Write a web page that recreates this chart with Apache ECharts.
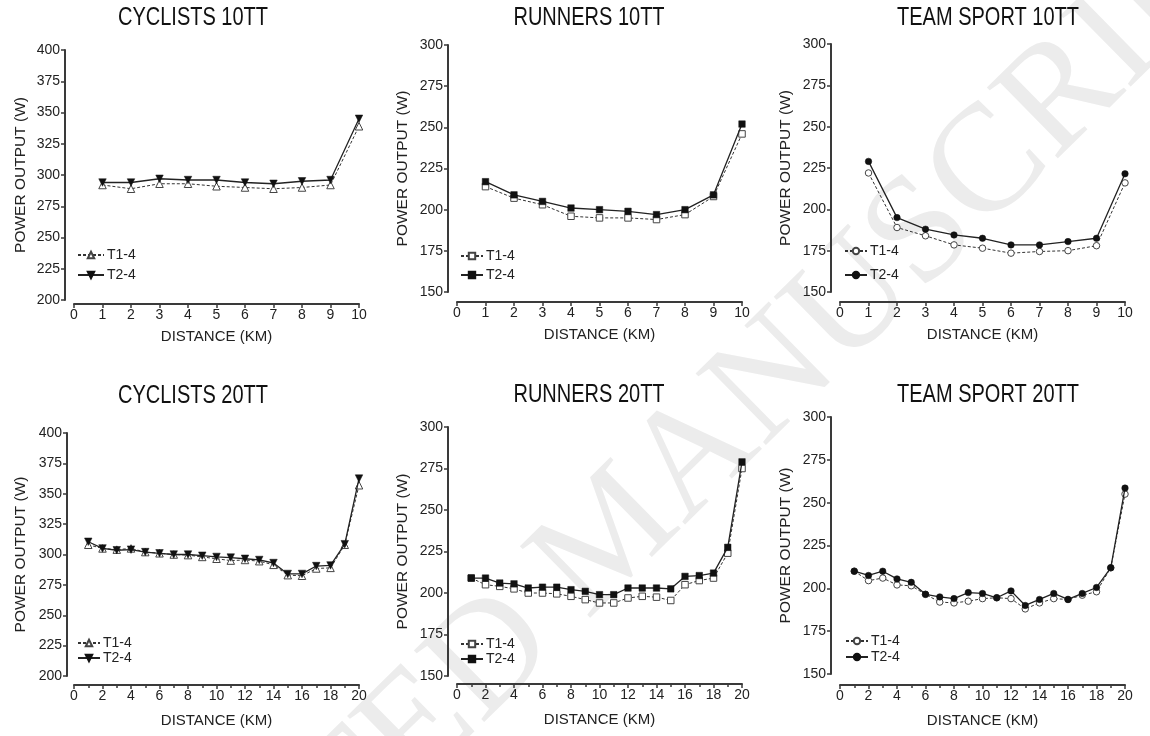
<!DOCTYPE html>
<html><head><meta charset="utf-8">
<script src="https://cdn.jsdelivr.net/npm/echarts@6/dist/echarts.min.js"></script>
<style>html,body{margin:0;padding:0;background:#fff}#c{width:1150px;height:736px}</style>
</head><body><div id="c"></div>
<script>
// ---- data ----
const km10 = [1,2,3,4,5,6,7,8,9,10];
const km20 = [1,2,3,4,5,6,7,8,9,10,11,12,13,14,15,16,17,18,19,20];

const cyc10_T1 = [292,289,293,293,291,290,289,290,292,339];
const cyc10_T2 = [294,294,297,296,296,294,293,295,296,345];
const run10_T1 = [214,207,203,196,195,195,194,197,208,246];
const run10_T2 = [217,209,205,201,200,199,197,200,209,252];
const team10_T1 = [222,189,184,178.5,176.5,173.5,174.5,175,178,216];
const team10_T2 = [229,195,188,184.5,182.5,178.5,178.5,180.5,182.5,221.5];

const cyc20_T1 = [308,305,304,305,302,301,300,299.5,298,296.5,295,295.5,294.5,291.5,283,282.5,288.5,289,308,357];
const cyc20_T2 = [310.5,305,303.5,304,302,301,300,300,299,298,297.5,296.5,295.5,293,284,284,290.5,291,308.5,362.5];
const run20_T1 = [209,205,204,202.5,200,200,199.5,198,196,194,194,197,198,197.5,195.5,205,207.5,209,224,275];
const run20_T2 = [209,209,206,205.5,203,203.5,203.5,202,201,199,199,203,203,203,202.5,210,210.5,212,227.5,279];
const team20_T1 = [210,204.5,206,202,201.5,196.5,192,191.5,192.5,194,194.5,194,188,191.5,194,193.5,196,198,212,255];
const team20_T2 = [210,207.5,210,205.5,203.5,196.5,195,194,197.5,197,194.5,198.5,190,193.5,197,193.5,197,200.5,212,258.5];

const titles = ['CYCLISTS 10TT','RUNNERS 10TT','TEAM SPORT 10TT','CYCLISTS 20TT','RUNNERS 20TT','TEAM SPORT 20TT'];
const legendNames = ['T1-4','T2-4'];
const yTitle = 'POWER OUTPUT (W)';
const xTitle = 'DISTANCE (KM)';
const watermark = 'ACCEPTED MANUSCRIPT';

const FF = '"Liberation Sans", Arial, Helvetica, sans-serif';

// ---- layout per panel ----
const panels = [
  {x:km10, t1:cyc10_T1, t2:cyc10_T2, ymin:200, ymax:400, xmax:10, sym:'triangle', grid:{left:74,top:50,width:285,height:250}, yOff:9, xOff:4, xGap:25, yGap:36, leg:{left:77,top:248,gap:6,w:26}, title:{x:193,y:18}},
  {x:km10, t1:run10_T1, t2:run10_T2, ymin:150, ymax:300, xmax:10, sym:'rect', grid:{left:457,top:45,width:285,height:247}, yOff:9, xOff:10, xGap:25, yGap:37, leg:{left:460,top:249,gap:5,w:22}, title:{x:589,y:18}},
  {x:km10, t1:team10_T1, t2:team10_T2, ymin:150, ymax:300, xmax:10, sym:'circle', grid:{left:840,top:44,width:285,height:248}, yOff:9, xOff:10, xGap:25, yGap:37, leg:{left:844,top:244,gap:10,w:22}, title:{x:988,y:18}},
  {x:km20, t1:cyc20_T1, t2:cyc20_T2, ymin:200, ymax:400, xmax:20, sym:'triangle', grid:{left:74,top:433,width:285,height:243}, yOff:7, xOff:9, xGap:28, yGap:38, leg:{left:77,top:636,gap:1,w:22}, title:{x:193,y:396}},
  {x:km20, t1:run20_T1, t2:run20_T2, ymin:150, ymax:300, xmax:20, sym:'rect', grid:{left:457,top:427,width:285,height:249}, yOff:9, xOff:8, xGap:28, yGap:37, leg:{left:460,top:637,gap:1,w:22}, title:{x:589,y:395}},
  {x:km20, t1:team20_T1, t2:team20_T2, ymin:150, ymax:300, xmax:20, sym:'circle', grid:{left:840,top:417,width:285,height:257}, yOff:9, xOff:11, xGap:28, yGap:37, leg:{left:845,top:634,gap:2,w:22}, title:{x:988,y:395}}
];

const AX = '#3a3a3a', TXT = '#222';
const option = {
  animation:false,
  backgroundColor:'#fff',
  textStyle:{fontFamily:FF},
  grid:[], xAxis:[], yAxis:[], series:[], legend:[],
  graphic:[{
    type:'text', x:615, y:537, rotation:44.5*Math.PI/180, z:-1, silent:true,
    style:{text:watermark, font:'153px "Liberation Serif", "DejaVu Serif", serif', fill:'#ececec', align:'center', verticalAlign:'middle'}
  }]
};

panels.forEach((p,i)=>{
  option.graphic.push({type:'text', x:p.title.x, y:p.title.y, scaleX:0.8, silent:true, z:5,
    style:{text:titles[i], font:'25px '+FF, fill:'#111', align:'center', verticalAlign:'middle'}});
  option.grid.push(Object.assign({containLabel:false}, p.grid));
  const is20 = p.xmax===20;
  option.xAxis.push({
    type:'value', gridIndex:i, min:0, max:p.xmax, interval:is20?2:1, offset:p.xOff,
    name:xTitle, nameLocation:'middle', nameGap:p.xGap,
    nameTextStyle:{fontFamily:FF, fontSize:15, color:TXT},
    axisLine:{show:true, onZero:false, lineStyle:{color:AX, width:2}},
    axisTick:{show:true, length:4, lineStyle:{color:AX, width:1.5}},
    minorTick:{show:is20, splitNumber:2, length:3, lineStyle:{color:AX, width:1.5}},
    axisLabel:{fontFamily:FF, fontSize:14, color:TXT, margin:4},
    splitLine:{show:false}
  });
  option.yAxis.push({
    type:'value', gridIndex:i, min:p.ymin, max:p.ymax, interval:25, offset:p.yOff,
    name:yTitle, nameLocation:'middle', nameGap:p.yGap,
    nameTextStyle:{fontFamily:FF, fontSize:15.5, color:TXT},
    axisLine:{show:true, onZero:false, lineStyle:{color:AX, width:2}},
    axisTick:{show:true, length:4, lineStyle:{color:AX, width:1.5}},
    axisLabel:{fontFamily:FF, fontSize:14, color:TXT, margin:5},
    splitLine:{show:false}
  });
  const base = p.sym==='triangle' ? 7.5 : 6.5;
  const n1 = 'p'+i+'|'+legendNames[0], n2 = 'p'+i+'|'+legendNames[1];
  option.series.push({
    type:'line', name:n1, xAxisIndex:i, yAxisIndex:i,
    data:p.x.map((k,j)=>[k,p.t1[j]]),
    symbol:p.sym, symbolSize:base, showSymbol:true, z:3,
    lineStyle:{color:'#333', width:1, type:[3,2]},
    itemStyle:{color:'#fff', borderColor:'#444', borderWidth:1}
  });
  option.series.push({
    type:'line', name:n2, xAxisIndex:i, yAxisIndex:i,
    data:p.x.map((k,j)=>[k,p.t2[j]]),
    symbol:p.sym, symbolSize:base, symbolRotate:p.sym==='triangle'?180:0, showSymbol:true, z:4,
    lineStyle:{color:'#222', width:1.3, type:'solid'},
    itemStyle:{color:'#111', borderColor:'#111', borderWidth:0.5}
  });
  option.legend.push({
    data:[n1,n2], orient:'vertical', left:p.leg.left, top:p.leg.top, itemGap:p.leg.gap,
    itemWidth:p.leg.w, itemHeight:8, selectedMode:false, padding:0,
    formatter:n=>n.split('|')[1],
    textStyle:{fontFamily:FF, fontSize:14, color:TXT, lineHeight:14, padding:[0,0,0,-2]}
  });
});

const chart = echarts.init(document.getElementById('c'), null, {renderer:'canvas', width:1150, height:736});
chart.setOption(option);
</script>
</body></html>
